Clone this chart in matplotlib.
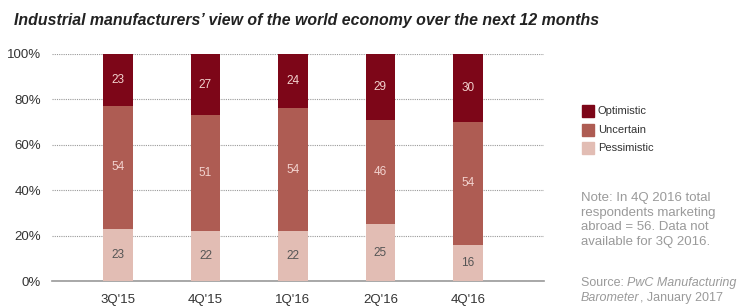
import matplotlib
matplotlib.use("Agg")
import matplotlib.pyplot as plt
from matplotlib.patches import Rectangle

categories = ["3Q'15", "4Q'15", "1Q'16", "2Q'16", "4Q'16"]
pessimistic = [23, 22, 22, 25, 16]
uncertain = [54, 51, 54, 46, 54]
optimistic = [23, 27, 24, 29, 30]
yticks = [0, 20, 40, 60, 80, 100]

c_opt = "#7D0618"
c_unc = "#AE5C53"
c_pes = "#E2BDB4"

plt.rcParams['font.family'] = ['Liberation Sans', 'DejaVu Sans']

fig = plt.figure(figsize=(7.4, 3.06), dpi=100)
ax = fig.add_axes([52/740, 1-281/306, (544-52)/740, (281-54)/306])

x = list(range(len(categories)))
w = 0.335
ax.bar(x, pessimistic, w, color=c_pes, zorder=3)
ax.bar(x, uncertain, w, bottom=pessimistic, color=c_unc, zorder=3)
bot3 = [p + u for p, u in zip(pessimistic, uncertain)]
ax.bar(x, optimistic, w, bottom=bot3, color=c_opt, zorder=3)

for i in x:
    ax.text(i, pessimistic[i]/2, str(pessimistic[i]), ha='center', va='center',
            fontsize=8.5, color='#555555', zorder=4)
    ax.text(i, pessimistic[i] + uncertain[i]/2, str(uncertain[i]), ha='center', va='center',
            fontsize=8.5, color='#F2D2CE', zorder=4)
    ax.text(i, bot3[i] + optimistic[i]/2, str(optimistic[i]), ha='center', va='center',
            fontsize=8.5, color='#F2D2CE', zorder=4)

ax.set_xlim(-0.754, 4.87)
ax.set_ylim(0, 100)
ax.set_yticks(yticks)
ax.set_yticklabels([f"{v}%" for v in yticks], fontsize=9.5, color='#333333')
ax.set_xticks(x)
ax.set_xticklabels(categories, fontsize=9.5, color='#333333')
ax.tick_params(axis='both', length=0)
ax.tick_params(axis='y', pad=8)
ax.tick_params(axis='x', pad=9)
for s in ['top', 'right', 'left']:
    ax.spines[s].set_visible(False)
ax.spines['bottom'].set_color('#999999')
ax.spines['bottom'].set_linewidth(1.2)
ax.yaxis.grid(True, linestyle=(0, (1, 1)), color='#999999', linewidth=0.8, zorder=0)
ax.set_axisbelow(True)

fig.text(14/740, 1-20/306, "Industrial manufacturers\u2019 view of the world economy over the next 12 months",
         fontsize=11.4, fontweight='bold', fontstyle='italic', color='#222222', va='center', ha='left')

# legend
labels = ["Optimistic", "Uncertain", "Pessimistic"]
colors = [c_opt, c_unc, c_pes]
ys = [111, 130, 148]
for lab, col, yy in zip(labels, colors, ys):
    fig.patches.append(Rectangle((582/740, 1-(yy+6)/306), 12/740, 12/306,
                                 transform=fig.transFigure, color=col, figure=fig))
    fig.text(598/740, 1-yy/306, lab, fontsize=8, color='#333333', va='center', ha='left')

grey = '#9A9A9A'
fs = 9.5
note = ["Note: In 4Q 2016 total", "respondents marketing", "abroad = 56. Data not",
        "available for 3Q 2016."]
for k, line in enumerate(note):
    fig.text(581/740, 1-(198 + 14.7*k)/306, line, fontsize=fs, color=grey, va='center', ha='left')

renderer = fig.canvas.get_renderer()
def run(parts, y, size):
    xx = 581
    for txt, style in parts:
        t = fig.text(xx/740, 1-y/306, txt, fontsize=size, color=grey, va='center', ha='left',
                     fontstyle=style)
        bb = t.get_window_extent(renderer=renderer)
        xx = bb.x1
run([("Source: ", 'normal'), ("PwC Manufacturing", 'italic')], 283, 9.0)
run([("Barometer", 'italic'), (", January 2017", 'normal')], 298, 9.0)

fig.savefig("out.png", dpi=100)
